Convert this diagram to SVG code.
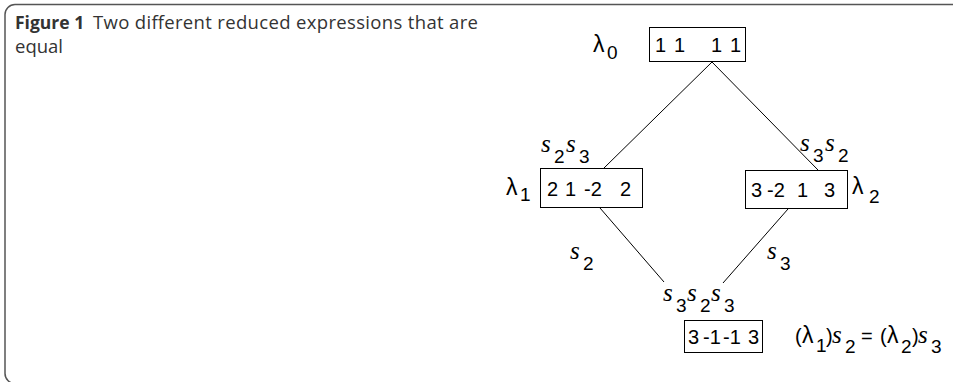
<svg xmlns="http://www.w3.org/2000/svg" width="953" height="382" viewBox="0 0 953 382">
<style>
.card{fill:#fff;stroke:#555;stroke-width:1.5}
.cap{font-family:"Open Sans","Noto Sans",sans-serif;font-size:18.5px;fill:#333}
.box{fill:#fff;stroke:#000;stroke-width:1}
.num{font-family:"Liberation Sans",Arial,sans-serif;font-size:20px;fill:#000}
.sym{font-family:"Liberation Sans",Arial,sans-serif;font-size:23px;fill:#000}
.s{font-family:"Liberation Serif",serif;font-style:italic;font-size:25px;fill:#000}
.sub{font-family:"Liberation Sans",Arial,sans-serif;font-size:19px;fill:#000}
.edge{stroke:#000;stroke-width:1;fill:none}
</style>
<rect class="card" x="5" y="4.5" width="1000" height="379" rx="10"/>
<text class="cap" x="15" y="29"><tspan font-weight="bold" font-size="17.5px">Figure 1</tspan><tspan x="93" textLength="385" lengthAdjust="spacing">Two different reduced expressions that are</tspan></text>
<text class="cap" x="15" y="53">equal</text>
<g id="connectors">
<line class="edge" x1="712" y1="62" x2="604" y2="168"/>
<line class="edge" x1="712" y1="62" x2="818" y2="170"/>
<line class="edge" x1="600" y1="208" x2="664" y2="282"/>
<line class="edge" x1="788" y1="209" x2="723" y2="283"/>
</g>
<g id="node-lambda0">
<text class="sym" x="593" y="52">λ</text><text class="sub" x="607" y="59">0</text>
<rect class="box" x="649.5" y="27.5" width="96" height="34"/>
<text class="num" x="655" y="52">1</text><text class="num" x="674" y="52">1</text><text class="num" x="711" y="52">1</text><text class="num" x="730" y="52">1</text>
</g>
<g id="node-lambda1">
<text class="s" x="541" y="152">s</text><text class="sub" x="554" y="163">2</text><text class="s" x="566" y="152">s</text><text class="sub" x="579" y="163">3</text>
<text class="sym" x="506" y="195">λ</text><text class="sub" x="520" y="201">1</text>
<rect class="box" x="540.5" y="168.5" width="102" height="39"/>
<text class="num" x="547" y="196">2</text><text class="num" x="565" y="196">1</text><text class="num" x="584" y="196">-2</text><text class="num" x="620" y="196">2</text>
</g>
<g id="node-lambda2">
<text class="s" x="800" y="151">s</text><text class="sub" x="813" y="162">3</text><text class="s" x="825" y="151">s</text><text class="sub" x="838" y="162">2</text>
<rect class="box" x="745.5" y="170.5" width="102" height="38"/>
<text class="num" x="751" y="197">3</text><text class="num" x="767" y="197">-2</text><text class="num" x="797" y="197">1</text><text class="num" x="824" y="197">3</text>
<text class="sym" x="852" y="194">λ</text><text class="sub" x="869" y="203">2</text>
</g>
<g id="node-result">
<text class="s" x="570" y="259">s</text><text class="sub" x="583" y="270">2</text>
<text class="s" x="767" y="259">s</text><text class="sub" x="780" y="270">3</text>
<text class="s" x="663" y="301">s</text><text class="sub" x="676" y="312">3</text><text class="s" x="687" y="301">s</text><text class="sub" x="700" y="312">2</text><text class="s" x="711" y="301">s</text><text class="sub" x="724" y="312">3</text>
<rect class="box" x="684.5" y="320.5" width="78" height="32"/>
<text class="num" x="688" y="344">3</text><text class="num" x="703" y="344">-1</text><text class="num" x="723" y="344">-1</text><text class="num" x="748" y="344">3</text>
<text class="num" x="795" y="343">(</text><text class="sym" x="802" y="343">λ</text><text class="sub" x="816" y="352">1</text><text class="num" x="826" y="343">)</text><text class="s" x="832" y="343">s</text><text class="sub" x="845" y="353">2</text><text class="num" x="861" y="343">=</text><text class="num" x="880" y="343">(</text><text class="sym" x="887" y="343">λ</text><text class="sub" x="901" y="353">2</text><text class="num" x="912" y="343">)</text><text class="s" x="918" y="343">s</text><text class="sub" x="931" y="353">3</text>
</g>
</svg>
